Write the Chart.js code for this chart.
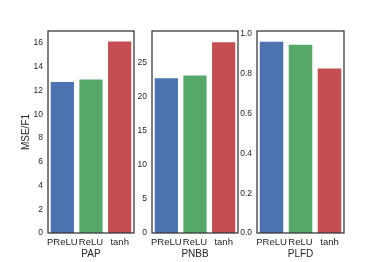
<!DOCTYPE html>
<html>
<head>
<meta charset="utf-8">
<script src="https://cdn.jsdelivr.net/npm/chart.js@4"></script>
<style>
  html, body { margin: 0; padding: 0; background: #fff; }
  #wrap { position: relative; width: 382px; height: 262px; }
  #wrap canvas { position: absolute; left: 0; top: 0; }
</style>
</head>
<body>
<div id="wrap">
  <canvas id="papChart" width="382" height="262"></canvas>
  <canvas id="pnbbChart" width="382" height="262"></canvas>
  <canvas id="plfdChart" width="382" height="262"></canvas>
</div>
<script>
// Data
const categories = ['PReLU', 'ReLU', 'tanh'];
const papValues = [12.8, 13.0, 16.2];
const pnbbValues = [22.9, 23.3, 28.2];
const plfdValues = [0.966, 0.951, 0.832];
const barColors = ['#4C72B0', '#55A868', '#C44E52'];

const textColor = '#262626';
const fontFamily = '"Liberation Sans", Arial, sans-serif';

// draws the box around each panel
const framePlugin = {
    id: 'frame',
    afterDraw(chart) {
        const a = chart.chartArea;
        const ctx = chart.ctx;
        ctx.save();
        ctx.strokeStyle = '#333333';
        ctx.lineWidth = 1.25;
        ctx.strokeRect(a.left, a.top, a.right - a.left, a.bottom - a.top);
        ctx.restore();
    }
};

/**
 * Build one panel: left/right are the frame edges in page pixels
 */
function createPanel(id, values, title, opts) {
    const ctx = document.getElementById(id);
    const axisWidth = opts.axisWidth;

    new Chart(ctx, {
        type: 'bar',
        data: {
            labels: categories,
            datasets: [{
                data: values,
                backgroundColor: barColors,
                borderColor: '#ffffff',
                borderWidth: 1,
                barPercentage: 0.88,
                categoryPercentage: 1.0
            }]
        },
        options: {
            responsive: false,
            animation: false,
            layout: {
                padding: {
                    left: opts.left - axisWidth,
                    right: 382 - opts.right,
                    top: 31,
                    bottom: 2
                }
            },
            scales: {
                x: {
                    grid: { display: false, drawTicks: false, tickLength: 0 },
                    border: { display: false },
                    ticks: {
                        color: textColor,
                        font: { family: fontFamily, size: 9.5 },
                        padding: 4,
                        maxRotation: 0,
                        autoSkip: false
                    },
                    title: {
                        display: true,
                        text: title,
                        color: textColor,
                        font: { family: fontFamily, size: 10 },
                        padding: 0
                    },
                    afterFit: function(scale) { scale.height = 27; }
                },
                y: {
                    min: 0,
                    max: opts.max,
                    grid: { display: false, drawTicks: false, tickLength: 0 },
                    border: { display: false },
                    ticks: {
                        stepSize: opts.step,
                        includeBounds: false,
                        color: textColor,
                        font: { family: fontFamily, size: 8.5 },
                        padding: 5,
                        callback: opts.format
                    },
                    title: {
                        display: !!opts.yTitle,
                        text: opts.yTitle || '',
                        color: textColor,
                        font: { family: fontFamily, size: 10 },
                        padding: 0
                    },
                    afterFit: function(scale) { scale.width = axisWidth; }
                }
            },
            plugins: {
                legend: { display: false },
                tooltip: { enabled: false }
            }
        },
        plugins: [framePlugin]
    });
}

createPanel('papChart', papValues, 'PAP', {
    left: 48, right: 134, axisWidth: 28, max: 17, step: 2,
    yTitle: 'MSE/F1',
    format: v => v
});
createPanel('pnbbChart', pnbbValues, 'PNBB', {
    left: 152, right: 238, axisWidth: 18, max: 29.7, step: 5,
    format: v => v
});
createPanel('plfdChart', plfdValues, 'PLFD', {
    left: 257, right: 344, axisWidth: 18, max: 1.015, step: 0.2,
    format: v => v.toFixed(1)
});
</script>
</body>
</html>
